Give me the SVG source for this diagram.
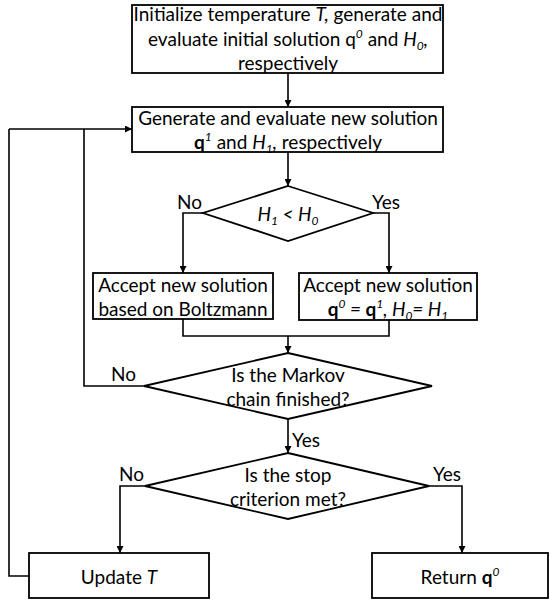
<svg xmlns="http://www.w3.org/2000/svg" width="550" height="601" viewBox="0 0 550 601">
<defs>
<marker id="arr" viewBox="0 0 10 10" refX="10" refY="5" markerWidth="7" markerHeight="7" markerUnits="userSpaceOnUse" orient="auto">
<path d="M0,0 L10,5 L0,10 z" fill="#000"/>
</marker>
<style>
.box{fill:#fff;stroke:#000;stroke-width:1.8}
.ln{fill:none;stroke:#000;stroke-width:1.6}
.t{font-family:Lato,"Open Sans",sans-serif;font-size:19px;fill:#000;text-anchor:middle}
.l{font-family:Lato,"Open Sans",sans-serif;font-size:19px;fill:#000}
.i{font-style:italic}
.b{font-weight:bold}
</style>
</defs>
<rect width="550" height="601" fill="#fff"/>
<g id="connectors">
<path class="ln" d="M288,73 V107" marker-end="url(#arr)"/>
<path class="ln" d="M288,152 V186" marker-end="url(#arr)"/>
<path class="ln" d="M203,213 H183 V273" marker-end="url(#arr)"/>
<path class="ln" d="M373,213 H389 V273" marker-end="url(#arr)"/>
<path class="ln" d="M183,319 V336 H389 V320"/>
<path class="ln" d="M288,336 V353" marker-end="url(#arr)"/>
<path class="ln" d="M144,386 H84 V129"/>
<path class="ln" d="M9,129 H132" marker-end="url(#arr)"/>
<path class="ln" d="M288,419 V453" marker-end="url(#arr)"/>
<path class="ln" d="M145,486 H120 V553" marker-end="url(#arr)"/>
<path class="ln" d="M429,486 H462 V553" marker-end="url(#arr)"/>
<path class="ln" d="M29,576 H9 V129"/>
</g>
<g id="init">
<rect class="box" x="132" y="5" width="311" height="68"/>
<text class="t" x="288" y="21">Initialize temperature <tspan class="i">T,</tspan> generate and</text>
<text class="t" x="288" y="46">evaluate initial solution q<tspan class="i" font-size="12" dy="-8">0</tspan><tspan dy="8"> and </tspan><tspan class="i">H</tspan><tspan class="i" font-size="12" dy="4">0</tspan><tspan class="i" dy="-4">,</tspan></text>
<text class="t" x="288" y="70">respectively</text>
</g>
<g id="generate">
<rect class="box" x="132" y="107" width="311" height="45"/>
<text class="t" x="288" y="125">Generate and evaluate new solution</text>
<text class="t" x="288" y="149"><tspan class="b">q</tspan><tspan class="i" font-size="12" dy="-8">1</tspan><tspan dy="8"> and </tspan><tspan class="i">H</tspan><tspan class="i" font-size="12" dy="4">1</tspan><tspan class="i" dy="-4">,</tspan> respectively</text>
</g>
<g id="cmp">
<polygon class="box" points="288,186 373,213 288,241 203,213"/>
<text class="t i" x="288" y="221">H<tspan font-size="12" dy="4">1</tspan><tspan dy="-4"> &lt; H</tspan><tspan font-size="12" dy="4">0</tspan></text>
<text class="l" x="177" y="209">No</text>
<text class="l" x="372" y="209">Yes</text>
</g>
<g id="boltzmann">
<rect class="box" x="93" y="273" width="180" height="46"/>
<text class="t" x="183" y="292">Accept new solution</text>
<text class="t" x="183" y="316">based on Boltzmann</text>
</g>
<g id="accept">
<rect class="box" x="299" y="273" width="178" height="47"/>
<text class="t" x="388" y="292">Accept new solution</text>
<text class="t" x="388" y="316"><tspan class="b">q</tspan><tspan class="i" font-size="12" dy="-8">0</tspan><tspan class="i" dy="8"> = </tspan><tspan class="b">q</tspan><tspan class="i" font-size="12" dy="-8">1</tspan><tspan class="i" dy="8">, H</tspan><tspan class="i" font-size="12" dy="4">0</tspan><tspan class="i" dy="-4">= H</tspan><tspan class="i" font-size="12" dy="4">1</tspan></text>
</g>
<g id="markov">
<polygon class="box" points="288,353 432,386 288,419 144,386"/>
<text class="t" x="288" y="382">Is the Markov</text>
<text class="t" x="288" y="406">chain finished?</text>
<text class="l" x="111" y="381">No</text>
<text class="l" x="292" y="447">Yes</text>
</g>
<g id="stop">
<polygon class="box" points="288,453 429,486 288,519 145,486"/>
<text class="t" x="288" y="482">Is the stop</text>
<text class="t" x="288" y="506">criterion met?</text>
<text class="l" x="119" y="481">No</text>
<text class="l" x="433" y="481">Yes</text>
</g>
<g id="update">
<rect class="box" x="29" y="553" width="180" height="45"/>
<text class="t" x="119" y="584">Update <tspan class="i">T</tspan></text>
</g>
<g id="return">
<rect class="box" x="372" y="553" width="176" height="45"/>
<text class="t" x="460" y="584">Return <tspan class="b">q</tspan><tspan class="i" font-size="12" dy="-8">0</tspan></text>
</g>
</svg>
